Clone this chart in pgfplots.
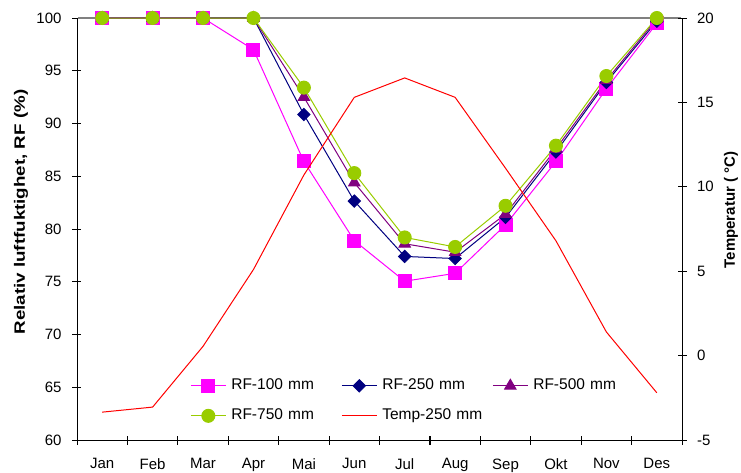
\documentclass[border=0pt]{standalone}
\usepackage{fontspec}
\setmainfont{Liberation Sans}
\usepackage{pgfplots}
\pgfplotsset{compat=1.18}
\definecolor{rfpink}{HTML}{FF00FF}
\definecolor{rfnavy}{HTML}{000080}
\definecolor{rfpurple}{HTML}{800080}
\definecolor{rfgreen}{HTML}{99CC00}
\definecolor{tred}{HTML}{FF0000}
\begin{document}
\begin{tikzpicture}[font=\fontsize{15}{18}\selectfont]
\path[use as bounding box] (-77pt,-32pt) rectangle (664pt,440pt);
% short grid lines that serve as the x-axis tick marks
\begin{axis}[
  at={(0pt,-4.5pt)}, anchor=south west,
  scale only axis, width=605pt, height=9pt,
  xmin=-0.5, xmax=11.5, ymin=0, ymax=1,
  xtick={-0.5,0.5,...,11.5}, xticklabels={},
  ytick=\empty,
  axis line style={draw=none},
  tick style={draw=none},
  xmajorgrids,
  major grid style={black, line width=0.9pt, solid},
]
\end{axis}
\begin{axis}[
  at={(0pt,0pt)}, anchor=south west,
  scale only axis, width=605pt, height=422pt,
  xmin=-0.5, xmax=11.5, ymin=60, ymax=100,
  axis line style={black, line width=0.8pt},
  xtick={-0.5,0.5,...,11.5},
  xticklabels={Jan,Feb,Mar,Apr,Mai,Jun,Jul,Aug,Sep,Okt,Nov,Des,{}},
  xticklabel style={xshift=25.21pt, yshift=-10.5pt},
  xtick pos=bottom, ytick pos=left,
  tick align=center,
  ytick={60,65,...,100},
  major tick length=9pt,
  tick style={draw=black, line width=0.8pt},
  /pgf/number format/assume math mode=true,
  yticklabel style={xshift=-7.5pt},
  every axis y label/.style={at={(axis description cs:-0.0926,0.54)}, rotate=90, anchor=center},
  ylabel={\scalebox{1.25}[1]{\bfseries Relativ luftfuktighet, RF (\%)}},
  clip=false,
  legend columns=3,
  legend cell align=left,
  legend style={at={(axis description cs:0.187,0.149)}, anchor=north west,
    draw=none, fill=none, inner sep=0pt, row sep=13pt,
    font=\fontsize{15.5}{18}\selectfont,
    nodes={text width=108pt, inner sep=2pt, text height=10pt, text depth=3pt},
    /tikz/every odd column/.append style={column sep=3pt}},
  legend image code/.code={\draw[mark repeat=2,mark phase=2] plot coordinates {(0pt,0pt) (17.5pt,0pt) (35pt,0pt)};},
]
\draw[gray, line width=1.2pt] (rel axis cs:0.001,1) -- (rel axis cs:0.999,1);
\addplot[rfpink, line width=1pt, mark=square*, mark size=6.5pt, mark options={solid, fill=rfpink, draw=rfpink}]
  coordinates {(0,100) (1,100) (2,100) (3,97.0) (4,86.4) (5,78.9) (6,75.05) (7,75.8) (8,80.4) (9,86.4) (10,93.3) (11,99.5)};
\addlegendentry{RF-100 mm}
\addplot[rfnavy, line width=1pt, mark=square*, mark size=4.3pt, mark options={solid, rotate=45, fill=rfnavy, draw=rfnavy}]
  coordinates {(0,100) (1,100) (2,100) (3,100) (4,90.85) (5,82.65) (6,77.4) (7,77.2) (8,81.1) (9,87.3) (10,93.9) (11,99.7)};
\addlegendentry{RF-250 mm}
\addplot[rfpurple, line width=1pt, mark=triangle*, mark size=6.5pt, mark options={solid, fill=rfpurple, draw=rfpurple}]
  coordinates {(0,100) (1,100) (2,100) (3,100) (4,92.5) (5,84.4) (6,78.6) (7,77.8) (8,81.4) (9,87.6) (10,94.1) (11,99.9)};
\addlegendentry{RF-500 mm}
\addplot[rfgreen, line width=1pt, mark=*, mark size=6.5pt, mark options={solid, fill=rfgreen, draw=rfgreen}]
  coordinates {(0,100) (1,100) (2,100) (3,100) (4,93.4) (5,85.3) (6,79.2) (7,78.3) (8,82.2) (9,87.9) (10,94.5) (11,100)};
\addlegendentry{RF-750 mm}
\addlegendimage{tred, line width=1pt, mark=none}
\addlegendentry{Temp-250 mm}
\end{axis}
\begin{axis}[
  at={(0pt,0pt)}, anchor=south west,
  scale only axis, width=605pt, height=422pt,
  xmin=-0.5, xmax=11.5, ymin=-5, ymax=20,
  axis y line*=right, axis x line=none,
  axis line style={black, line width=0.8pt},
  ytick={-5,0,...,20},
  ytick align=center,
  major tick length=9pt,
  ytick style={draw=black, line width=0.8pt},
  /pgf/number format/assume math mode=true,
  yticklabel style={xshift=7pt},
  every axis y label/.style={at={(axis description cs:1.081,0.545)}, rotate=90, anchor=center},
  ylabel={\bfseries Temperatur ( °C)},
  clip=false,
]
\addplot[tred, line width=1pt, mark=none]
  coordinates {(0,-3.35) (1,-3.05) (2,0.55) (3,5.1) (4,10.7) (5,15.3) (6,16.45) (7,15.3) (8,11.1) (9,6.8) (10,1.4) (11,-2.2)};
\end{axis}
\end{tikzpicture}
\end{document}
